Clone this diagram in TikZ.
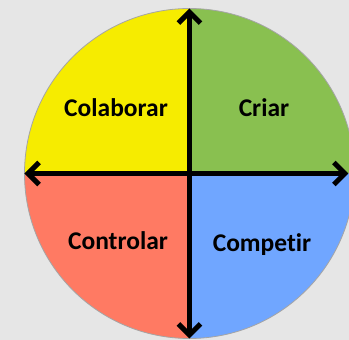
\documentclass[tikz,border=0pt]{standalone}
\usepackage{fontspec}
\setmainfont{Carlito}[Ligatures=NoCommon]
\usetikzlibrary{arrows.meta}
\definecolor{fundo}{RGB}{230,230,230}
\definecolor{amarelo}{RGB}{246,236,0}
\definecolor{verde}{RGB}{137,192,80}
\definecolor{vermelho}{RGB}{255,122,99}
\definecolor{azul}{RGB}{112,166,255}
\definecolor{contorno}{RGB}{165,165,165}
\tikzset{
	eixo/.style={line width=5pt,{Straight Barb[length=11pt,width=22pt]}-{Straight Barb[length=11pt,width=22pt]}},
	rotulo/.style={anchor=base,font=\fontsize{25.5}{25.5}\selectfont\bfseries}
}
\begin{document}
\begin{tikzpicture}
	\useasboundingbox[fill=fundo] (-189.5pt,-166.5pt) rectangle (159.5pt,173.5pt);
	\clip (-189.5pt,-166.5pt) rectangle (159.5pt,173.5pt);
	\def\r{165pt}
	\path
	(0,0) coordinate (O)
	(90:\r) coordinate (N)
	(180:\r) coordinate (W)
	(270:\r) coordinate (S)
	(159pt,0) coordinate (E);
	% quadrantes
	\foreach \a/\c in {0/verde,90/amarelo,180/vermelho,270/azul} \fill[\c] (O) -- (\a:\r) arc (\a:\a+90:\r) -- cycle;
	\draw[contorno,line width=.8pt] (O) circle (\r);
	% eixos
	\draw[eixo] (S) -- (N);
	\draw[eixo] (W) -- (E);
	\foreach \x/\p/\t in {colab/{-73.5pt,56.5pt}/Colaborar,criar/{74.5pt,56.5pt}/Criar,control/{-71.5pt,-76.5pt}/Controlar,compet/{72.5pt,-78.5pt}/Competir} \node[rotulo] (\x) at (\p) {\t};
\end{tikzpicture}
\end{document}
